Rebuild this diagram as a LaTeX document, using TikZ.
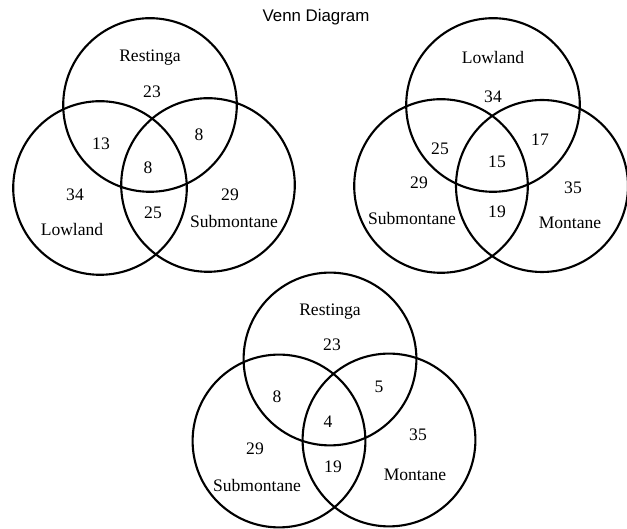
\documentclass[tikz,border=0pt]{standalone}
\usepackage{fontspec, tkz-euclide}
\setmainfont{Liberation Serif}
\newfontfamily\titlefont{Liberation Sans}
\tikzset{lbl/.style={inner sep=0pt, font=\fontsize{12.5}{14}\selectfont}}

\begin{document}
\begin{tikzpicture}
    \useasboundingbox (0,0) rectangle (15.675,13.225);
    % circle centres
    \tkzDefPoints{3.75/10.6/RA, 2.5/8.525/LA, 5.2/8.6/SA}
    \tkzDefPoints{12.325/10.6/LB, 11.025/8.575/SB, 13.55/8.575/MB}
    \tkzDefPoints{8.25/4.25/RC, 6.975/2.2/SC, 9.725/2.225/MC}
    \tkzDefShiftPoint[RA](0:2.17){ra}
    \tkzDefShiftPoint[LA](0:2.17){la}
    \tkzDefShiftPoint[SA](0:2.17){sa}
    \tkzDefShiftPoint[LB](0:2.17){lb}
    \tkzDefShiftPoint[SB](0:2.17){sb}
    \tkzDefShiftPoint[MB](0:2.15){mb}
    \tkzDefShiftPoint[RC](0:2.16){rc}
    \tkzDefShiftPoint[SC](0:2.16){sc}
    \tkzDefShiftPoint[MC](0:2.16){mc}
    \tkzDrawCircles[draw=black, line width=1.5pt](RA,ra LA,la SA,sa LB,lb SB,sb MB,mb RC,rc SC,sc MC,mc)
    \node (title) at (7.9,12.8) [inner sep=0pt, font=\titlefont\fontsize{12}{14}\selectfont] {Venn Diagram};
    % Restinga / Lowland / Submontane
    \node (nameRA) at (3.75,11.775) [lbl] {Restinga};
    \node (nameLA) at (1.8,7.5) [lbl] {Lowland};
    \node (nameSA) at (5.85,7.7) [lbl] {Submontane};
    \node (onlyRA) at (3.8,10.925) [lbl] {23};
    \node (onlyLA) at (1.875,8.35) [lbl] {34};
    \node (onlySA) at (5.75,8.35) [lbl] {29};
    \node (rlA) at (2.525,9.625) [lbl] {13};
    \node (rsA) at (4.975,9.85) [lbl] {8};
    \node (lsA) at (3.825,7.9) [lbl] {25};
    \node (allA) at (3.7,9.025) [lbl] {8};
    % Lowland / Submontane / Montane
    \node (nameLB) at (12.325,11.8) [lbl] {Lowland};
    \node (nameSB) at (10.3,7.775) [lbl] {Submontane};
    \node (nameMB) at (14.25,7.65) [lbl] {Montane};
    \node (onlyLB) at (12.325,10.8) [lbl] {34};
    \node (onlySB) at (10.475,8.65) [lbl] {29};
    \node (onlyMB) at (14.325,8.525) [lbl] {35};
    \node (lsB) at (11,9.5) [lbl] {25};
    \node (lmB) at (13.5,9.725) [lbl] {17};
    \node (smB) at (12.425,7.925) [lbl] {19};
    \node (allB) at (12.425,9.175) [lbl] {15};
    % Restinga / Submontane / Montane
    \node (nameRC) at (8.25,5.425) [lbl] {Restinga};
    \node (nameSC) at (6.425,1.1) [lbl] {Submontane};
    \node (nameMC) at (10.375,1.35) [lbl] {Montane};
    \node (onlyRC) at (8.3,4.6) [lbl] {23};
    \node (onlySC) at (6.375,2) [lbl] {29};
    \node (onlyMC) at (10.45,2.35) [lbl] {35};
    \node (rsC) at (6.925,3.3) [lbl] {8};
    \node (rmC) at (9.475,3.55) [lbl] {5};
    \node (smC) at (8.325,1.55) [lbl] {19};
    \node (allC) at (8.2,2.675) [lbl] {4};
\end{tikzpicture}
\end{document}
